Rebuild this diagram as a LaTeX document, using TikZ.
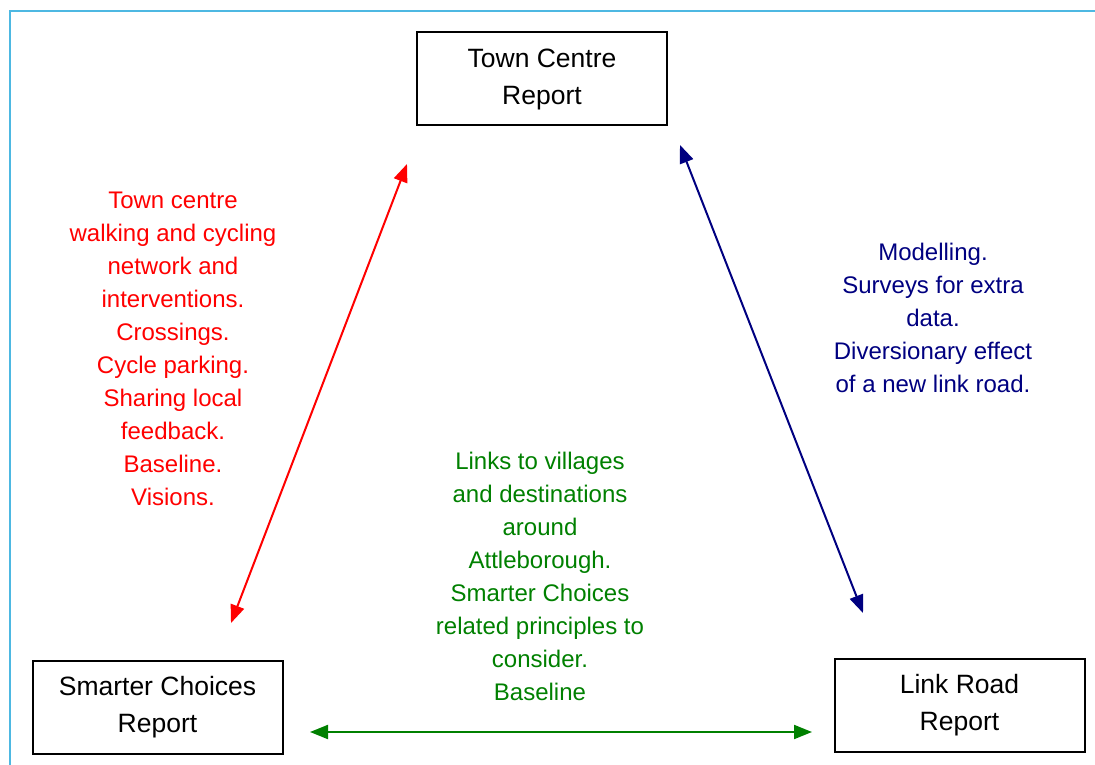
\documentclass[tikz,border=0pt]{standalone}
\usepackage{fontspec}
\setmainfont{Liberation Sans}
\usetikzlibrary{arrows.meta}
\definecolor{framecol}{RGB}{77,184,226}
\definecolor{linkred}{RGB}{255,0,0}
\definecolor{linkblue}{RGB}{0,0,128}
\definecolor{linkgreen}{RGB}{0,128,0}
\begin{document}
\begin{tikzpicture}[x=1pt,y=-1pt,
  report/.style={draw=black,line width=2pt,minimum width=250pt,minimum height=93pt,
    inner sep=0pt,align=center,font=\fontsize{26.5}{37}\selectfont},
  note/.style={align=center,inner sep=0pt,font=\fontsize{24}{33}\selectfont},
  link/.style={line width=2pt,{Triangle[length=18pt,width=14pt]}-{Triangle[length=18pt,width=14pt]}}]
  \useasboundingbox (0,0) rectangle (1095,765);
  % page frame
  \draw[framecol,line width=2.2pt] (10,766) -- (10,11) -- (1096,11);

  % the three reports
  \node[report] (town)  at (542,79)      {Town Centre\\Report};
  \node[report] (smart) at (157.5,707)   {Smarter Choices\\Report};
  \node[report] (link)  at (959.5,705.5) {Link Road\\Report};

  % connector ends
  \coordinate (rA) at (231,623);
  \coordinate (rB) at (407,164);
  \coordinate (bA) at (680,145);
  \coordinate (bB) at (863,613);
  \coordinate (gA) at (310,732);
  \coordinate (gB) at (812,732);

  \draw[link,linkred]   (rA) -- (rB);
  \draw[link,linkblue]  (bA) -- (bB);
  \draw[link,linkgreen] (gA) -- (gB);

  % what each pair of reports shares
  \node[note,text=linkred] (redtxt) at (173,349)
    {Town centre\\walking and cycling\\network and\\interventions.\\Crossings.\\Cycle parking.\\Sharing local\\feedback.\\Baseline.\\Visions.};
  \node[note,text=linkblue] (bluetxt) at (933,317.5)
    {Modelling.\\Surveys for extra\\data.\\Diversionary effect\\of a new link road.};
  \node[note,text=linkgreen] (greentxt) at (540,576)
    {Links to villages\\and destinations\\around\\Attleborough.\\Smarter Choices\\related principles to\\consider.\\Baseline};
\end{tikzpicture}
\end{document}
